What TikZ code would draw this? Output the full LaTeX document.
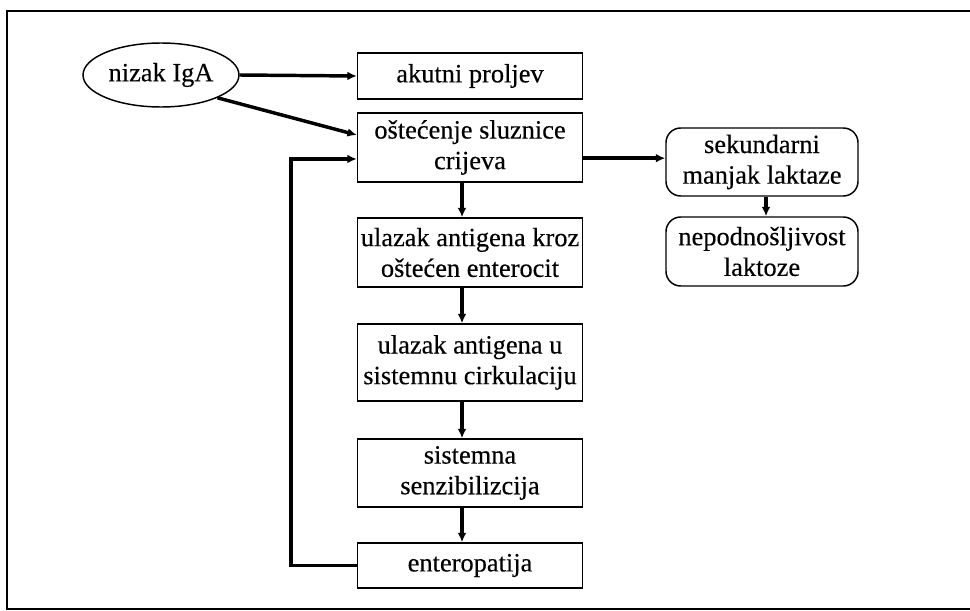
\documentclass[tikz,border=0pt]{standalone}
\usepackage{fontspec}
\setmainfont{Liberation Serif}[FakeBold=0.3]
\usetikzlibrary{shapes.geometric,arrows.meta,calc}
\begin{document}
\begin{tikzpicture}[x=0.75pt,y=-0.75pt,
  every node/.style={font=\fontsize{19.8}{23}\selectfont, align=center, inner sep=0pt},
  box/.style={draw, line width=1.1pt, minimum width=168.75pt},
  rbox/.style={draw, line width=1.1pt, rounded corners=11pt, minimum width=144pt},
  oval/.style={draw, ellipse, line width=1.1pt, minimum width=117pt, minimum height=48pt},
  arr/.style={line width=2.6pt, -{Latex[length=7pt,width=6.5pt]}}]
\useasboundingbox (0,0) rectangle (970,610);
\draw[line width=1.4pt] (7,11) rectangle (975,609);
\node[oval] (ig) at (161,75) {nizak IgA};
\node[box, minimum height=34.5pt] (ak) at (470,76) {akutni proljev};
\node[box, minimum height=51.75pt] (os) at (470,147.5) {oštećenje sluznice\\crijeva};
\node[box, minimum height=51.75pt] (ul1) at (470,252.5) {ulazak antigena kroz\\oštećen enterocit};
\node[box, minimum height=57.75pt] (ul2) at (470,362.5) {ulazak antigena u\\sistemnu cirkulaciju};
\node[box, minimum height=51pt] (sen) at (470,473) {sistemna\\senzibilizcija};
\node[box, minimum height=33.75pt] (ent) at (470,565.5) {enteropatija};
\node[rbox, minimum height=51pt] (sek) at (762,162) {sekundarni\\manjak laktaze};
\node[rbox, minimum height=51.75pt] (nep) at (762,251.5) {nepodnošljivost\\laktoze};
\draw[arr] (ig.east) -- (ak.west);
\coordinate (osA) at ([yshift=9.4pt]os.west);
\draw[arr] (ig.-22) -- (osA);
\coordinate (osB) at ([yshift=-8.6pt]os.west);
\draw[arr] (ent.west) -- ++(-66,0) |- (osB);
\draw[arr] ([xshift=-6pt]os.south) -- ([xshift=-6pt]ul1.north);
\draw[arr] ([xshift=-6pt]ul1.south) -- ([xshift=-6pt]ul2.north);
\draw[arr] ([xshift=-6pt]ul2.south) -- ([xshift=-6pt]sen.north);
\draw[arr] ([xshift=-6pt]sen.south) -- ([xshift=-6pt]ent.north);
\coordinate (osC) at ([yshift=-8pt]os.east);
\draw[arr] (osC) -- (osC -| sek.west);
\draw[arr] ([xshift=3pt]sek.south) -- ([xshift=3pt]nep.north);
\end{tikzpicture}
\end{document}
